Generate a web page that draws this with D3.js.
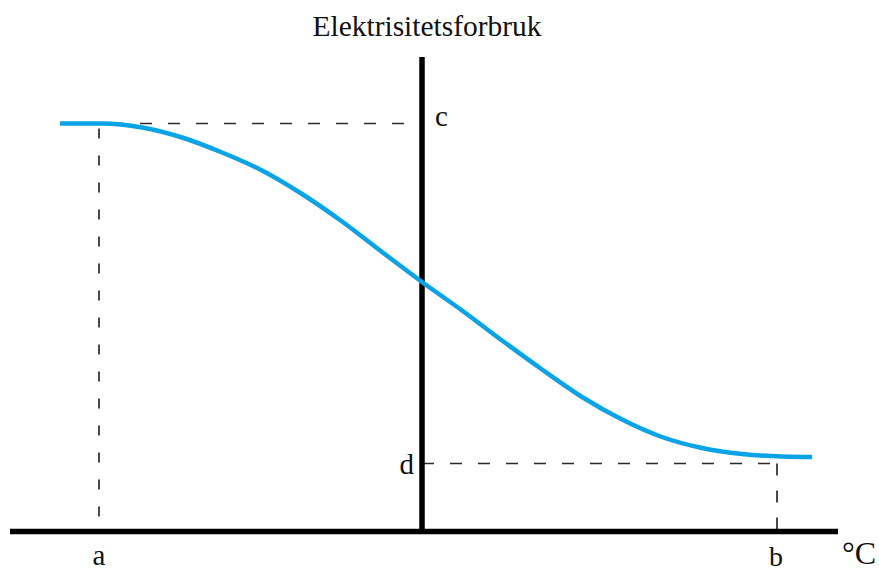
<!DOCTYPE html>
<html>
<head>
<meta charset="utf-8">
<script src="https://cdn.jsdelivr.net/npm/d3@7"></script>
<style>
  html, body { margin: 0; padding: 0; background: #fff; }
  svg { display: block; }
  text { font-family: "Liberation Serif", "DejaVu Serif", serif; fill: #111; }
</style>
</head>
<body>
<svg id="chart" width="879" height="572"></svg>
<script>
// Outdoor temperature (arbitrary units, y-axis at 0) and electricity use
const temps = [-36.2, -32, -28, -24, -20, -16, -12, -8, -4, 0, 4, 8, 12, 16, 20, 24, 28, 32, 36, 39];
const usage = [40.8, 40.8, 40.4, 39.4, 37.9, 36.1, 33.75, 31.0, 27.95, 24.95, 22.1, 19.1, 16.2, 13.45, 11.2, 9.45, 8.35, 7.75, 7.5, 7.45];

// Marked levels on the axes
const markNames = ["a", "b", "c", "d"];
const markValues = [-32.3, 35.5, 40.8, 6.8];

const titleText = "Elektrisitetsforbruk";
const unitText = "°C";

const svg = d3.select("#chart");

const x = d3.scaleLinear().domain([-41.2, 41.6]).range([10, 838]);
const y = d3.scaleLinear().domain([0, 47.45]).range([531.5, 57]);

const mark = Object.fromEntries(markNames.map((n, i) => [n, markValues[i]]));

// Dashed guide lines
const guides = svg.append("g")
  .attr("stroke", "#2a2a2a")
  .attr("stroke-width", 1.7)
  .attr("fill", "none");

// level c, from a over to the y-axis
guides.append("line")
  .attr("x1", x(mark.a)).attr("x2", x(0))
  .attr("y1", y(mark.c)).attr("y2", y(mark.c))
  .attr("stroke-dasharray", "12,16")
  .attr("stroke-dashoffset", 15);
// a, down to the x-axis
guides.append("line")
  .attr("x1", x(mark.a)).attr("x2", x(mark.a))
  .attr("y1", y(mark.c)).attr("y2", y(0))
  .attr("stroke-dasharray", "10,17")
  .attr("stroke-dashoffset", -5);
// level d, from the y-axis over to b
guides.append("line")
  .attr("x1", x(0)).attr("x2", x(mark.b))
  .attr("y1", y(mark.d)).attr("y2", y(mark.d))
  .attr("stroke-dasharray", "12,16");
// b, down to the x-axis
guides.append("line")
  .attr("x1", x(mark.b)).attr("x2", x(mark.b))
  .attr("y1", y(mark.d)).attr("y2", y(0))
  .attr("stroke-dasharray", "12,15");

// Axes
svg.append("line")
  .attr("x1", x.range()[0]).attr("x2", x.range()[1])
  .attr("y1", y(0)).attr("y2", y(0))
  .attr("stroke", "#000").attr("stroke-width", 5.5);
svg.append("line")
  .attr("x1", x(0)).attr("x2", x(0))
  .attr("y1", y.range()[1]).attr("y2", y(0))
  .attr("stroke", "#000").attr("stroke-width", 5.5);

// Consumption curve
const line = d3.line()
  .x((d, i) => x(temps[i]))
  .y(d => y(d))
  .curve(d3.curveMonotoneX);

svg.append("path")
  .datum(usage)
  .attr("d", line)
  .attr("fill", "none")
  .attr("stroke", "#0aa3e6")
  .attr("stroke-width", 4.5);

// Title
svg.append("text")
  .attr("x", 427).attr("y", 36)
  .attr("text-anchor", "middle")
  .attr("font-size", 29)
  .attr("textLength", 229)
  .attr("lengthAdjust", "spacingAndGlyphs")
  .text(titleText);

// Mark labels
svg.append("text").attr("x", x(0) + 13).attr("y", y(mark.c) + 2)
  .attr("font-size", 29).text(markNames[2]);
svg.append("text").attr("x", x(0) - 8).attr("y", y(mark.d) + 10)
  .attr("text-anchor", "end").attr("font-size", 29).text(markNames[3]);
svg.append("text").attr("x", x(mark.a)).attr("y", 565)
  .attr("text-anchor", "middle").attr("font-size", 29).text(markNames[0]);
svg.append("text").attr("x", x(mark.b) - 1).attr("y", 566)
  .attr("text-anchor", "middle").attr("font-size", 28).text(markNames[1]);

// Unit on the x-axis
svg.append("text").attr("x", 842).attr("y", 564)
  .attr("font-size", 32).text(unitText);
</script>
</body>
</html>
